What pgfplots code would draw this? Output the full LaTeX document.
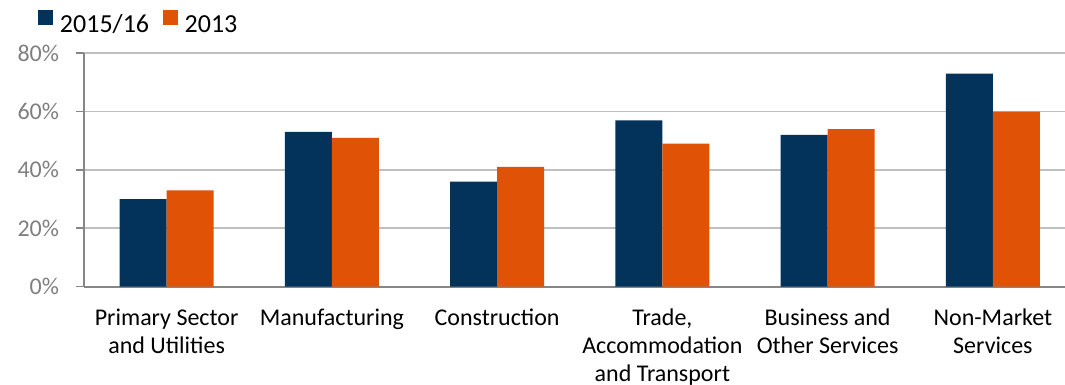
\documentclass[border=0pt]{standalone}
\usepackage{pgfplots}
\pgfplotsset{compat=1.18}
\usepackage{fontspec}
\setmainfont{Carlito}
\definecolor{navy}{HTML}{03325A}
\definecolor{orng}{HTML}{E05206}
\definecolor{axgray}{HTML}{868686}
\definecolor{tlgray}{HTML}{7F7F7F}
\definecolor{grid}{HTML}{D9D9D9}
\begin{document}
\begin{tikzpicture}
\useasboundingbox (-42pt,-49.2pt) rectangle (490.5pt,143.3pt);
\begin{axis}[
  at={(0pt,0pt)}, anchor=south west,
  scale only axis,
  width=495.75pt, height=116.7pt,
  ybar=0pt, bar width=23.5pt,
  xmin=-0.5, xmax=5.5, ymin=0, ymax=80,
  xtick={0,...,5},
  xticklabels={{\strut Primary Sector\\and Utilities}, {\strut Manufacturing}, {\strut Construction}, {\strut Trade,\\Accommodation\\and Transport}, {\strut Business and\\Other Services}, {\strut Non-Market\\Services}},
  xticklabel style={align=center, font=\fontsize{12}{13.85}\selectfont, text=black, anchor=north, inner sep=0pt, yshift=-5.8pt},
  major x tick style={draw=none},
  extra x ticks={-0.5,0.5,1.5,2.5,3.5,4.5,5.5},
  extra x tick labels={},
  extra x tick style={xmajorgrids=false, ymajorgrids=false, major tick length=3.5pt, major x tick style={axgray, line width=0.8pt}},
  xmajorgrids=false, xminorgrids=false,
  ytick={0,20,40,60,80},
  yticklabel={\pgfmathprintnumber{\tick}\%},
  yticklabel style={font=\fontsize{12}{14}\selectfont, text=tlgray, anchor=east, inner sep=0pt, xshift=-8.3pt},
  /pgf/number format/assume math mode=true,
  major y tick style={axgray, line width=0.8pt},
  major tick length=4pt,
  tick align=outside,
  ymajorgrids=true, major grid style={grid, line width=0.8pt},
  axis line style={axgray, line width=1pt},
  axis x line*=bottom, axis y line*=left,
  legend style={draw=none, fill=none, at={(axis description cs:-0.0464,1.065)}, anchor=south west,
    legend columns=-1, font=\fontsize{13}{15}\selectfont, inner sep=0pt,
    nodes={inner sep=1pt},
    /tikz/every odd column/.append style={column sep=2.5pt},
    /tikz/every even column/.append style={column sep=6pt}},
  legend image code/.code={\fill[#1] (0pt,0pt) rectangle (7.3pt,7.3pt);},
]
\addplot[fill=navy, draw=none] coordinates {(0,30) (1,53) (2,36) (3,57) (4,52) (5,73)};
\addplot[fill=orng, draw=none] coordinates {(0,33) (1,51) (2,41) (3,49) (4,54) (5,60)};
\legend{2015/16, 2013}
\end{axis}
\end{tikzpicture}
\end{document}
